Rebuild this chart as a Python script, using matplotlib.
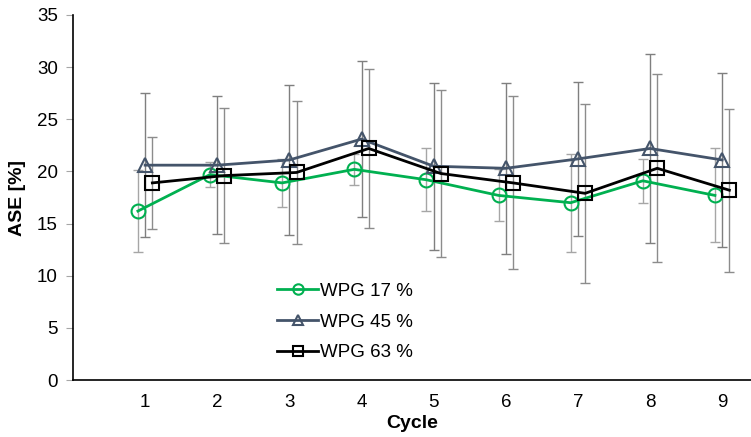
import matplotlib
matplotlib.use("Agg")
import matplotlib.pyplot as plt
import numpy as np

plt.rcParams['font.family'] = ['Liberation Sans', 'DejaVu Sans']

cycles = [1, 2, 3, 4, 5, 6, 7, 8, 9]

# mean ASE values and standard deviations
wpg17 = [16.2, 19.7, 18.9, 20.2, 19.2, 17.7, 17.0, 19.1, 17.7]
wpg17_err = [3.9, 1.2, 2.3, 1.5, 3.0, 2.5, 4.7, 2.1, 4.5]

wpg45 = [20.6, 20.6, 21.1, 23.1, 20.5, 20.3, 21.2, 22.2, 21.1]
wpg45_err = [6.9, 6.6, 7.2, 7.5, 8.0, 8.2, 7.4, 9.1, 8.3]

wpg63 = [18.9, 19.6, 19.9, 22.2, 19.8, 18.9, 17.9, 20.3, 18.2]
wpg63_err = [4.4, 6.5, 6.9, 7.6, 8.0, 8.3, 8.6, 9.0, 7.8]

labels = ['WPG 17 %', 'WPG 45 %', 'WPG 63 %']

fig = plt.figure(figsize=(7.51, 4.37), dpi=100)
ax = fig.add_axes([0.0972, 0.1304, 0.9028, 0.8353])

x = np.array(cycles, dtype=float)
series = [
    (x - 0.1, wpg17, wpg17_err, '#00B050', 'o', '#A6A6A6', 10),
    (x, wpg45, wpg45_err, '#44546A', '^', '#7F7F7F', 10),
    (x + 0.1, wpg63, wpg63_err, '#000000', 's', '#8C8C8C', 10),
]

for (xs, y, e, col, mk, ecol, ms), lab in zip(series, labels):
    ax.errorbar(xs, y, yerr=e, fmt='none', ecolor=ecol, elinewidth=1,
                capsize=3.5, capthick=1, zorder=1)
    ax.plot(xs, y, color=col, marker=mk, markersize=ms, mfc='none',
            mec=col, mew=1.5, lw=2, label=lab, zorder=3)

ax.set_xlim(0, 9.4)
ax.set_ylim(0, 35)
ax.set_xticks(cycles)
ax.set_yticks(range(0, 36, 5))
ax.tick_params(axis='x', length=0, labelsize=13.5, pad=10)
ax.tick_params(axis='y', length=5, color='#A6A6A6', labelsize=13.5, pad=6)

for s in ['top', 'right']:
    ax.spines[s].set_visible(False)
ax.spines['left'].set_linewidth(1.2)
ax.spines['bottom'].set_linewidth(1.2)

ax.set_xlabel('Cycle', fontsize=14, fontweight='bold', labelpad=3)
ax.set_ylabel('ASE [%]', fontsize=14, fontweight='bold', labelpad=8)

ax.legend(loc='upper left', bbox_to_anchor=(0.29, 0.287), frameon=False,
          fontsize=13.5, handlelength=2.2, handletextpad=0.1,
          labelspacing=0.72, borderaxespad=0, markerscale=0.75)

fig.savefig('out.png', dpi=100)
